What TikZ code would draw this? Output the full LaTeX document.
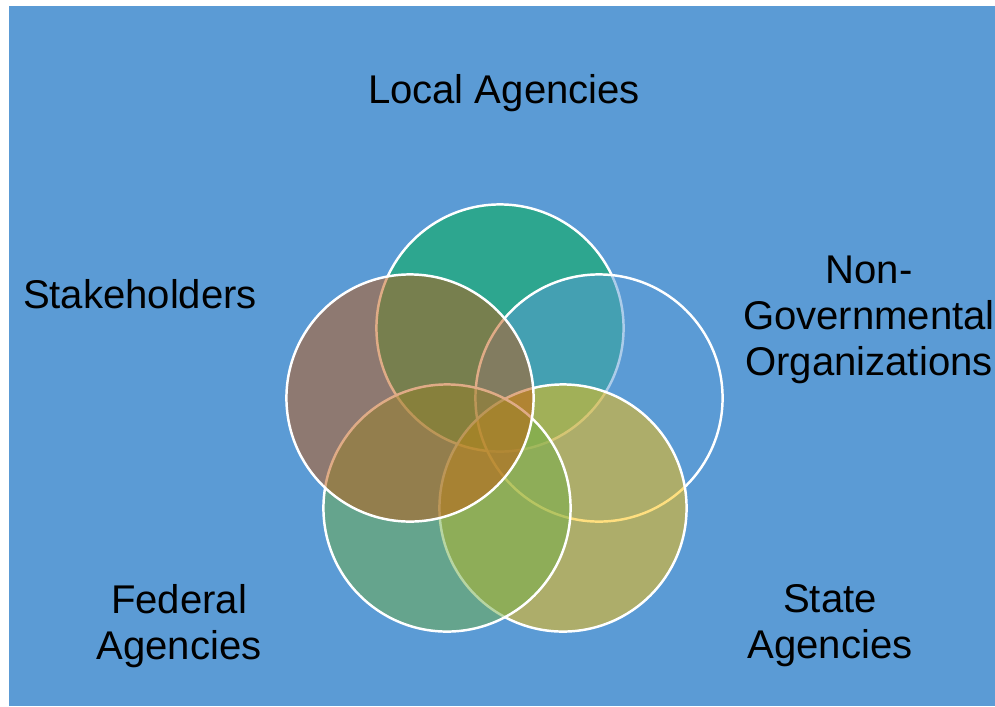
\documentclass[tikz,border=0pt]{standalone}
\usepackage{fontspec}
\setmainfont{Liberation Sans}
\usepackage{tikz}

\definecolor{bgblue}{RGB}{91,155,213}
\definecolor{localc}{RGB}{1,177,75}
\definecolor{ngoc}{RGB}{91,155,213}
\definecolor{statec}{RGB}{255,192,0}
\definecolor{fedc}{RGB}{112,173,71}
\definecolor{stakec}{RGB}{193,89,15}

\tikzset{
    venn/.style={draw=white, line width=0.7pt, fill opacity=0.5, draw opacity=1},
    lbl/.style={font=\fontsize{11.4}{13.1}\selectfont, align=center, text=black}
}

\begin{document}
\begin{tikzpicture}[x=0.01cm,y=-0.01cm]

    \fill[white] (0,0) rectangle (995,706);
    \useasboundingbox (0,0) rectangle (995,706);
    \fill[bgblue] (9,6) rectangle (995,706);

    % the five sets
    \draw[venn, fill=localc] (500,328) circle [radius=1.235cm];
    \draw[venn, fill=ngoc] (599,398) circle [radius=1.235cm];
    \draw[venn, fill=statec] (563,508) circle [radius=1.235cm];
    \draw[venn, fill=fedc] (447,508) circle [radius=1.235cm];
    \draw[venn, fill=stakec] (410,398) circle [radius=1.235cm];

    \node[lbl] (local) at (504,93) {Local Agencies};
    \node[lbl] (ngo) at (869,320) {Non-\\Governmental\\Organizations};
    \node[lbl] (stake) at (140,294) {Stakeholders};
    \node[lbl] (federal) at (179,626) {Federal\\Agencies};
    \node[lbl] (state) at (830,626) {State\\Agencies};

\end{tikzpicture}
\end{document}
